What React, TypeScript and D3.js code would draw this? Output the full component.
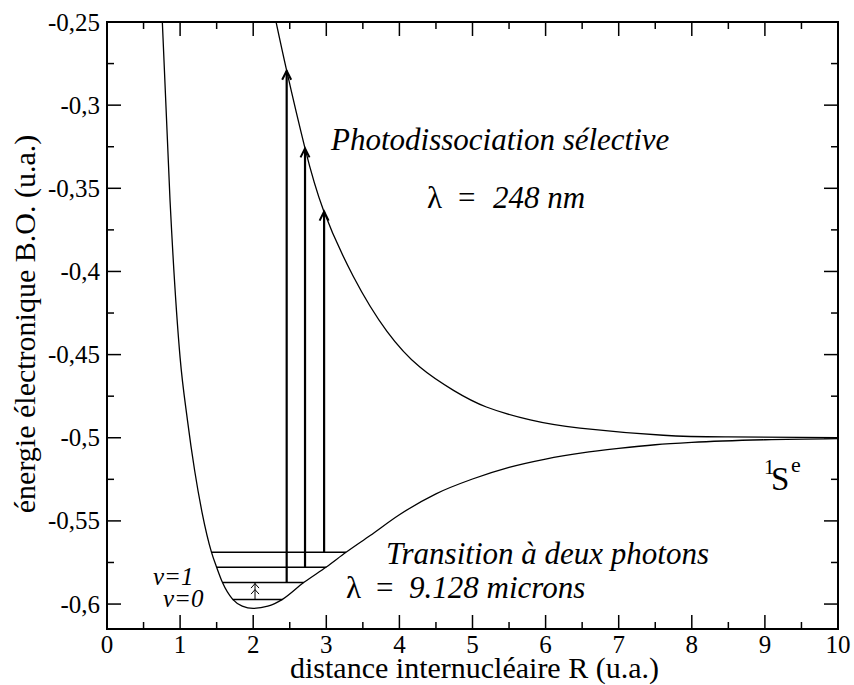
import React from "react";
import * as d3 from "d3";

const W = 854;
const H = 685;

// Ground state curve (R, E)
const groundR = [0.73, 0.757, 0.862, 1.0, 1.1, 1.2, 1.3, 1.43, 1.5, 1.58, 1.72, 1.85, 2.0, 2.2, 2.4, 2.69, 3.0, 3.27, 3.6, 4.0, 4.5, 5.0, 5.5, 6.0, 6.5, 7.0, 7.5, 8.0, 9.0, 10];
const groundE = [-0.215, -0.25, -0.357, -0.4518, -0.4892, -0.52, -0.5448, -0.5689, -0.5779, -0.5871, -0.5972, -0.6012, -0.6026, -0.6013, -0.5972, -0.5871, -0.5777, -0.5689, -0.5588, -0.5463, -0.5337, -0.5248, -0.5178, -0.5128, -0.5091, -0.5064, -0.5042, -0.5028, -0.5012, -0.5005];

// Repulsive curve
const upperR = [2.25, 2.458, 2.709, 2.96, 3.37, 3.83, 4.28, 4.74, 5.19, 5.79, 6.47, 7.61, 8.5, 10];
const upperE = [-0.237, -0.2793, -0.326, -0.363, -0.403, -0.436, -0.4575, -0.4715, -0.4815, -0.4893, -0.4942, -0.4985, -0.4995, -0.4999];

// Vibrational levels v=0..3
const levelE = [-0.5972, -0.5871, -0.5779, -0.5689];
const levelRmin = [1.72, 1.58, 1.5, 1.43];
const levelRmax = [2.4, 2.69, 3.0, 3.27];

// Photodissociation arrows
const arrowR = [2.458, 2.709, 2.97];
const arrowLevel = [1, 2, 3];
const arrowTopE = [-0.2793, -0.326, -0.364];

// Two-photon transition
const twoPhotonR = 2.025;

const xTicks = [0, 1, 2, 3, 4, 5, 6, 7, 8, 9, 10];
const xMinor = [0.5, 1.5, 2.5, 3.5, 4.5, 5.5, 6.5, 7.5, 8.5, 9.5];
const yTicks = [-0.25, -0.3, -0.35, -0.4, -0.45, -0.5, -0.55, -0.6];
const yTickLabels = ["-0,25", "-0,3", "-0,35", "-0,4", "-0,45", "-0,5", "-0,55", "-0,6"];
const yMinor = [-0.275, -0.325, -0.375, -0.425, -0.475, -0.525, -0.575];

const L = 107, R = 838, T = 22, B = 629;

export default function App() {
  const x = d3.scaleLinear().domain([0, 10]).range([L, R]);
  const y = d3.scaleLinear().domain([-0.615, -0.25]).range([B, T]);

  const line = d3
    .line<[number, number]>()
    .x((d) => x(d[0]))
    .y((d) => y(d[1]))
    .curve(d3.curveMonotoneX);

  const lineUp = d3
    .line<[number, number]>()
    .x((d) => x(d[0]))
    .y((d) => y(d[1]))
    .curve(d3.curveNatural);

  const groundPts = groundR.map((r, i) => [r, groundE[i]] as [number, number]);
  const upperPts = upperR.map((r, i) => [r, upperE[i]] as [number, number]);

  const MAJ = 14, MIN = 7;

  const chevron = (cx: number, cy: number, hw: number, h: number) =>
    `M${cx - hw},${cy + h}L${cx},${cy}L${cx + hw},${cy + h}`;

  const tp = x(twoPhotonR);
  const y0 = y(levelE[0]);
  const y1 = y(levelE[1]);

  return (
    <svg
      width={W}
      height={H}
      style={{ position: "absolute", left: 0, top: 0, background: "#fff" }}
    >
      <style>{`text{font-family:"Liberation Serif","Times New Roman",Times,serif;fill:#000;}`}</style>
      <defs>
        <clipPath id="plot">
          <rect x={L} y={T} width={R - L} height={B - T} />
        </clipPath>
      </defs>
      <rect width={W} height={H} fill="#fff" />

      <g clipPath="url(#plot)" fill="none" stroke="#000">
        <path d={line(groundPts) || ""} strokeWidth={1.3} />
        <path d={lineUp(upperPts) || ""} strokeWidth={1.3} />
        {levelE.map((e, i) => (
          <line key={"lv" + i} x1={x(levelRmin[i])} x2={x(levelRmax[i])} y1={y(e)} y2={y(e)} strokeWidth={1.5} />
        ))}
        {arrowR.map((r, i) => (
          <g key={"ar" + i}>
            <line x1={x(r)} x2={x(r)} y1={y(levelE[arrowLevel[i]])} y2={y(arrowTopE[i])} strokeWidth={2.2} />
            <path d={chevron(x(r), y(arrowTopE[i]), 4.5, 9)} strokeWidth={2} />
          </g>
        ))}
        <line x1={tp} x2={tp} y1={y0} y2={y1} strokeWidth={1} />
        <path d={chevron(tp, y1 + 1, 4, 4.5)} strokeWidth={1} />
        <path d={chevron(tp, y1 + 7, 4, 4.5)} strokeWidth={1} />
      </g>

      {/* frame */}
      <rect x={L} y={T} width={R - L} height={B - T} fill="none" stroke="#000" strokeWidth={2} />

      {/* ticks */}
      <g stroke="#000" strokeWidth={1.5}>
        {xTicks.map((t) => (
          <g key={"xt" + t}>
            <line x1={x(t)} x2={x(t)} y1={B} y2={B - MAJ} />
            <line x1={x(t)} x2={x(t)} y1={T} y2={T + MAJ} />
          </g>
        ))}
        {xMinor.map((t) => (
          <g key={"xm" + t}>
            <line x1={x(t)} x2={x(t)} y1={B} y2={B - MIN} />
            <line x1={x(t)} x2={x(t)} y1={T} y2={T + MIN} />
          </g>
        ))}
        {yTicks.map((t) => (
          <g key={"yt" + t}>
            <line x1={L} x2={L + MAJ} y1={y(t)} y2={y(t)} />
            <line x1={R} x2={R - MAJ} y1={y(t)} y2={y(t)} />
          </g>
        ))}
        {yMinor.map((t) => (
          <g key={"ym" + t}>
            <line x1={L} x2={L + MIN} y1={y(t)} y2={y(t)} />
            <line x1={R} x2={R - MIN} y1={y(t)} y2={y(t)} />
          </g>
        ))}
      </g>

      {/* tick labels */}
      <g fontSize={25}>
        {xTicks.map((t) => (
          <text key={"xl" + t} x={x(t)} y={653} textAnchor="middle">
            {t}
          </text>
        ))}
        {yTicks.map((t, i) => (
          <text key={"yl" + t} x={100} y={y(t) + 8.5} textAnchor="end">
            {yTickLabels[i]}
          </text>
        ))}
      </g>

      {/* axis titles */}
      <text x={(L + R) / 2 + 2} y={678} fontSize={30} textAnchor="middle">
        distance internucléaire R (u.a.)
      </text>
      <text transform={`translate(35,${324}) rotate(-90)`} fontSize={30} textAnchor="middle">
        énergie électronique B.O. (u.a.)
      </text>

      {/* annotations */}
      <text x={331} y={150} fontSize={31} fontStyle="italic">
        Photodissociation sélective
      </text>
      <text x={427} y={208} fontSize={31}>λ</text>
      <text x={458} y={208} fontSize={31}>=</text>
      <text x={493} y={208} fontSize={31} fontStyle="italic">248 nm</text>

      <text x={386} y={564} fontSize={31} fontStyle="italic">
        Transition à deux photons
      </text>
      <text x={346} y={598} fontSize={31}>λ</text>
      <text x={376} y={598} fontSize={31}>=</text>
      <text x={409} y={598} fontSize={31} fontStyle="italic">9.128 microns</text>

      <text x={153} y={585} fontSize={25} fontStyle="italic">v=1</text>
      <text x={163} y={607} fontSize={25} fontStyle="italic">v=0</text>

      <text x={764} y={474} fontSize={21}>1</text>
      <text x={771} y={490} fontSize={33}>S</text>
      <text x={791} y={472} fontSize={22}>e</text>
    </svg>
  );
}
